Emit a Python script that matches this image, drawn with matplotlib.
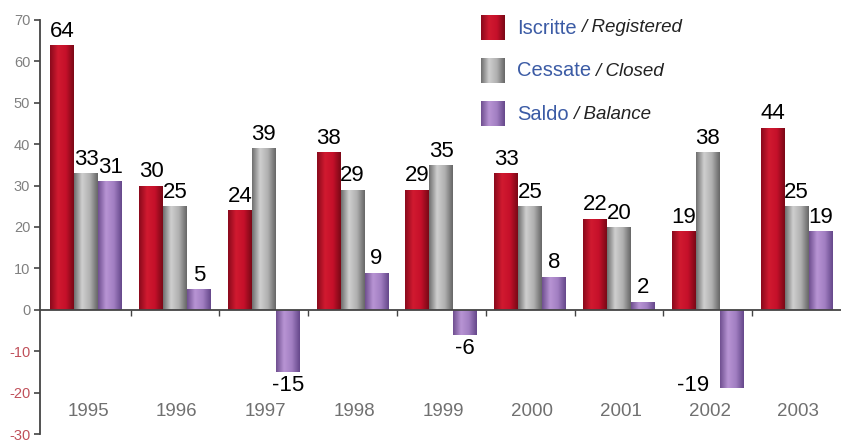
import matplotlib
matplotlib.use("Agg")
import matplotlib.pyplot as plt
from matplotlib.patches import Rectangle
from matplotlib.colors import LinearSegmentedColormap
import numpy as np

years = ["1995", "1996", "1997", "1998", "1999", "2000", "2001", "2002", "2003"]
iscritte = [64, 30, 24, 38, 29, 33, 22, 19, 44]
cessate = [33, 25, 39, 29, 35, 25, 20, 38, 25]
saldo = [31, 5, -15, 9, -6, 8, 2, -19, 19]
yticks = [-30, -20, -10, 0, 10, 20, 30, 40, 50, 60, 70]

series = [
    ("Iscritte", "Registered", iscritte, ["#8a0a1c", "#d11a30", "#c5102a", "#7a0816"]),
    ("Cessate", "Closed", cessate, ["#6e6e6e", "#cfcfcf", "#b0b0b0", "#666666"]),
    ("Saldo", "Balance", saldo, ["#6f4f90", "#b894d4", "#a27fc2", "#65478a"]),
]

FONT = ["Liberation Sans", "DejaVu Sans"]
plt.rcParams['font.family'] = FONT

fig = plt.figure(figsize=(8.41, 4.41), dpi=100)
ax = fig.add_axes([40/841, 1-434/441, 1-40/841, (434-20)/441])

grad = np.linspace(0, 1, 64).reshape(1, -1)


def shade(patch, cmap, axis_or_fig, transform=None):
    if transform is None:
        x0, y0 = patch.get_x(), patch.get_y()
        x1, y1 = x0 + patch.get_width(), y0 + patch.get_height()
        im = axis_or_fig.imshow(grad, cmap=cmap, aspect="auto",
                                extent=(x0, x1, min(y0, y1), max(y0, y1)),
                                zorder=2.5, interpolation="bicubic")
        im.set_clip_path(patch)


x = np.arange(len(years))
w = 0.27
for i, (it, en, vals, cols) in enumerate(series):
    off = (i - 1) * w
    cmap = LinearSegmentedColormap.from_list(it, [cols[0], cols[1], cols[2], cols[3]])
    bars = ax.bar(x + off, vals, w, color=cols[2], edgecolor="none", zorder=2)
    for p in bars:
        shade(p, cmap, ax)
    for j, (xi, v) in enumerate(zip(x + off, vals)):
        if v >= 0:
            ax.text(xi, v + 0.8, str(v), ha="center", va="bottom", fontsize=16,
                    color="black", zorder=4)
        elif v < -16:
            ax.text(xi - w / 2 - 0.12, v + 0.8, str(v), ha="right", va="center",
                    fontsize=16, color="black", zorder=4)
        else:
            ax.text(xi, v - 0.8, str(v), ha="center", va="top",
                    fontsize=16, color="black", zorder=4)

ax.set_xlim(-0.52, 8.5)
ax.set_ylim(-30, 70)
ax.set_yticks(yticks)
ax.set_yticklabels([str(t) for t in yticks])
for lab, t in zip(ax.get_yticklabels(), yticks):
    lab.set_color("#c0505a" if t < 0 else "#808080")
    lab.set_fontsize(10.5)
ax.tick_params(axis="y", length=4, width=1.2, color="#444444", pad=3)

ax.spines["top"].set_visible(False)
ax.spines["right"].set_visible(False)
ax.spines["bottom"].set_position(("data", 0))
ax.spines["left"].set_color("#444444")
ax.spines["left"].set_linewidth(1.3)
ax.spines["bottom"].set_color("#444444")
ax.spines["bottom"].set_linewidth(1.3)
ax.spines["bottom"].set_zorder(3)

ax.set_xticks(np.arange(len(years) - 1) + 0.5)
ax.set_xticklabels([])
ax.tick_params(axis="x", length=4, width=1.0, color="#444444", direction="out")

for xi, yr in zip(x, years):
    ax.text(xi + 0.02, -24.5, yr, ha="center", va="center", fontsize=13.5, color="#707070")

# legend
leg_y = [28, 71, 114]
for (it, en, vals, cols), py in zip(series, leg_y):
    lax = fig.add_axes([481/841, 1-(py+12)/441, 24/841, 25/441])
    cmap = LinearSegmentedColormap.from_list(it + "L", [cols[0], cols[1], cols[2], cols[3]])
    lax.imshow(grad, cmap=cmap, aspect="auto", interpolation="bicubic")
    lax.set_axis_off()
    t1 = fig.text(517/841, 1-py/441, it, ha="left", va="center", fontsize=14.5,
                  color="#3b5ba5")
    fig.canvas.draw()
    bb = t1.get_window_extent()
    fig.text(bb.x1/841 + 4/841, 1-py/441, "/ " + en, ha="left", va="center",
             fontsize=13.5, style="italic", color="#222222")

fig.savefig("out.png", dpi=100)
